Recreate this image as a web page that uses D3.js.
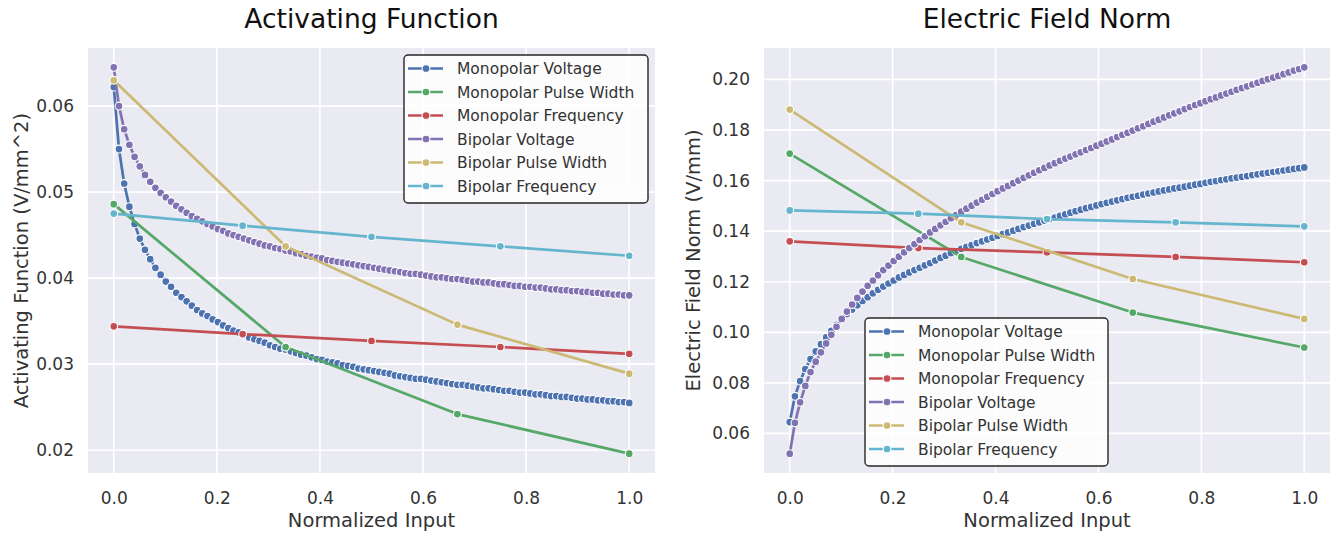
<!DOCTYPE html>
<html><head><meta charset="utf-8">
<script src="https://cdn.jsdelivr.net/npm/d3@7"></script>
<style>body{margin:0;background:#fff}svg{display:block;font-family:"DejaVu Sans",sans-serif}</style>
</head><body>
<script>
// ---------- data ----------
const seriesNames = ["Monopolar Voltage","Monopolar Pulse Width","Monopolar Frequency","Bipolar Voltage","Bipolar Pulse Width","Bipolar Frequency"];
const seriesColors = ["#4C72B0","#55A868","#C44E52","#8172B2","#CCB974","#64B5CD"];
const xTicks = [0, 0.2, 0.4, 0.6, 0.8, 1.0];
const afTicks = [0.02, 0.03, 0.04, 0.05, 0.06];
const efTicks = [0.06, 0.08, 0.10, 0.12, 0.14, 0.16, 0.18, 0.20];

// normalized input levels (100 evenly spaced voltage levels, 4 pulse widths, 5 frequencies)
const xVoltage = d3.range(100).map(i => i / 99);
const xPulse = [0, 1/3, 2/3, 1];
const xFreq = [0, 0.25, 0.5, 0.75, 1];

// Activating Function (V/mm^2)
const afMonoVoltage = [0.0622,0.0550,0.0510,0.0483,0.0463,0.0446,0.0433,0.0422,0.0412,0.0404,0.0396,0.0390,0.0383,0.0378,0.0373,0.0368,0.0363,0.0359,0.0356,0.0352,0.0349,0.0345,0.0342,0.0339,0.0337,
0.0334,0.0331,0.0329,0.0327,0.0325,0.0322,0.0320,0.0318,0.0317,0.0315,0.0313,0.0311,0.0310,0.0308,0.0306,0.0305,0.0303,0.0302,0.0301,0.0299,0.0298,0.0297,0.0295,0.0294,0.0293,
0.0292,0.0291,0.0290,0.0289,0.0287,0.0286,0.0285,0.0284,0.0283,0.0283,0.0282,0.0281,0.0280,0.0279,0.0278,0.0277,0.0276,0.0276,0.0275,0.0274,0.0273,0.0272,0.0272,0.0271,0.0270,
0.0269,0.0269,0.0268,0.0267,0.0267,0.0266,0.0265,0.0265,0.0264,0.0263,0.0263,0.0262,0.0262,0.0261,0.0260,0.0260,0.0259,0.0259,0.0258,0.0258,0.0257,0.0257,0.0256,0.0256,0.0255];
const afMonoPulse = [0.0486, 0.0320, 0.0242, 0.0196];
const afMonoFreq = [0.0344, 0.0335, 0.0327, 0.0320, 0.0312];
const afBiVoltage = [0.0645,0.0600,0.0573,0.0555,0.0541,0.0530,0.0520,0.0512,0.0505,0.0499,0.0494,0.0489,0.0484,0.0480,0.0476,0.0472,0.0469,0.0466,0.0463,0.0460,0.0457,0.0455,0.0452,0.0450,0.0448,
0.0446,0.0444,0.0442,0.0440,0.0438,0.0437,0.0435,0.0434,0.0432,0.0431,0.0429,0.0428,0.0426,0.0425,0.0424,0.0423,0.0421,0.0420,0.0419,0.0418,0.0417,0.0416,0.0415,0.0414,0.0413,
0.0412,0.0411,0.0410,0.0409,0.0408,0.0407,0.0406,0.0405,0.0405,0.0404,0.0403,0.0402,0.0401,0.0401,0.0400,0.0399,0.0399,0.0398,0.0397,0.0396,0.0396,0.0395,0.0395,0.0394,0.0393,
0.0393,0.0392,0.0391,0.0391,0.0390,0.0390,0.0389,0.0389,0.0388,0.0387,0.0387,0.0386,0.0386,0.0385,0.0385,0.0384,0.0384,0.0383,0.0383,0.0382,0.0382,0.0381,0.0381,0.0380,0.0380];
const afBiPulse = [0.0630, 0.0437, 0.0346, 0.0289];
const afBiFreq = [0.0475, 0.0461, 0.0448, 0.0437, 0.0426];

// Electric Field Norm (V/mm)
const efMonoVoltage = [0.0645,0.0747,0.0807,0.0855,0.0894,0.0925,0.0953,0.0980,0.1006,0.1030,0.1052,0.1072,0.1090,0.1107,0.1124,0.1139,0.1154,0.1168,0.1181,0.1193,0.1205,0.1217,0.1227,0.1237,0.1246,
0.1255,0.1265,0.1274,0.1284,0.1294,0.1303,0.1313,0.1321,0.1330,0.1338,0.1345,0.1353,0.1360,0.1367,0.1374,0.1381,0.1388,0.1395,0.1402,0.1409,0.1416,0.1422,0.1429,0.1435,0.1442,
0.1448,0.1454,0.1461,0.1467,0.1473,0.1479,0.1485,0.1491,0.1496,0.1502,0.1507,0.1512,0.1517,0.1522,0.1527,0.1532,0.1536,0.1540,0.1545,0.1549,0.1553,0.1557,0.1561,0.1565,0.1569,
0.1572,0.1576,0.1580,0.1584,0.1587,0.1591,0.1595,0.1598,0.1602,0.1605,0.1609,0.1612,0.1615,0.1618,0.1622,0.1625,0.1628,0.1631,0.1634,0.1637,0.1640,0.1643,0.1646,0.1649,0.1652];
const efMonoPulse = [0.1707, 0.1298, 0.1078, 0.0940];
const efMonoFreq = [0.1360, 0.1333, 0.1316, 0.1298, 0.1277];
const efBiVoltage = [0.0520,0.0642,0.0723,0.0788,0.0843,0.0884,0.0921,0.0956,0.0990,0.1022,0.1053,0.1082,0.1110,0.1136,0.1161,0.1184,0.1205,0.1226,0.1246,0.1264,0.1282,0.1299,0.1316,0.1333,0.1349,
0.1365,0.1380,0.1395,0.1409,0.1423,0.1437,0.1451,0.1464,0.1477,0.1489,0.1501,0.1513,0.1524,0.1536,0.1547,0.1558,0.1569,0.1579,0.1590,0.1600,0.1611,0.1621,0.1631,0.1641,0.1650,
0.1660,0.1669,0.1678,0.1687,0.1695,0.1704,0.1712,0.1721,0.1729,0.1738,0.1746,0.1755,0.1763,0.1772,0.1781,0.1789,0.1798,0.1807,0.1815,0.1824,0.1833,0.1841,0.1850,0.1858,0.1866,
0.1874,0.1883,0.1891,0.1899,0.1906,0.1914,0.1922,0.1929,0.1937,0.1944,0.1951,0.1959,0.1966,0.1973,0.1980,0.1987,0.1994,0.2001,0.2007,0.2014,0.2021,0.2028,0.2035,0.2041,0.2048];
const efBiPulse = [0.1881, 0.1435, 0.1211, 0.1053];
const efBiFreq = [0.1482, 0.1469, 0.1448, 0.1435, 0.1419];

// ---------- drawing ----------
const W = 1338, H = 535;
const svg = d3.select("body").append("svg").attr("width", W).attr("height", H);
const TXT = "#333333";
const MR = 3.9, MSW = 1.1;

function build(xs, ysList){ return ysList.map((ys, i) => ({name: seriesNames[i], color: seriesColors[i], pts: ys.map((v, j) => [xs[i][j], v])})); }

function drawPanel(cfg){
  const x = d3.scaleLinear().domain([-0.05, 1.05]).range([cfg.left, cfg.right]);
  const all = cfg.series.flatMap(s => s.pts.map(p => p[1]));
  const [lo, hi] = d3.extent(all), pad = (hi - lo) * 0.05;
  const y = d3.scaleLinear().domain([lo - pad, hi + pad]).range([cfg.bottom, cfg.top]);
  const g = svg.append("g");
  g.append("rect").attr("x", cfg.left).attr("y", cfg.top).attr("width", cfg.right - cfg.left).attr("height", cfg.bottom - cfg.top).attr("fill", "#EAEAF2");
  g.append("g").selectAll("line").data(xTicks).join("line")
    .attr("x1", d => x(d)).attr("x2", d => x(d)).attr("y1", cfg.top).attr("y2", cfg.bottom)
    .attr("stroke", "#fff").attr("stroke-width", 1.7);
  g.append("g").selectAll("line").data(cfg.yTicks).join("line")
    .attr("y1", d => y(d)).attr("y2", d => y(d)).attr("x1", cfg.left).attr("x2", cfg.right)
    .attr("stroke", "#fff").attr("stroke-width", 1.7);

  const ax = g.append("g").attr("transform", `translate(0,${cfg.bottom})`)
    .call(d3.axisBottom(x).tickValues(xTicks).tickFormat(d3.format(".1f")).tickSize(0).tickPadding(19));
  ax.select(".domain").remove();
  ax.selectAll("text").attr("font-size", 17).attr("fill", TXT).attr("font-family", "DejaVu Sans");
  const ay = g.append("g").attr("transform", `translate(${cfg.left},0)`)
    .call(d3.axisLeft(y).tickValues(cfg.yTicks).tickFormat(d3.format(".2f")).tickSize(0).tickPadding(14));
  ay.select(".domain").remove();
  ay.selectAll("text").attr("font-size", 17).attr("fill", TXT).attr("font-family", "DejaVu Sans");

  const cx = (cfg.left + cfg.right) / 2, cy = (cfg.top + cfg.bottom) / 2;
  g.append("text").attr("x", cx).attr("y", 28).attr("text-anchor", "middle").attr("font-size", 26.5).attr("fill", "#111").text(cfg.title);
  g.append("text").attr("x", cx).attr("y", 527).attr("text-anchor", "middle").attr("font-size", 19.5).attr("fill", TXT).text("Normalized Input");
  g.append("text").attr("transform", `translate(${cfg.ylabelX},${cy}) rotate(-90)`).attr("text-anchor", "middle").attr("font-size", 19.5).attr("fill", TXT).text(cfg.ylabel);

  const line = d3.line().x(d => x(d[0])).y(d => y(d[1]));
  cfg.series.forEach(s => {
    const sg = g.append("g");
    sg.append("path").attr("d", line(s.pts)).attr("fill", "none").attr("stroke", s.color).attr("stroke-width", 2.7).attr("stroke-linejoin", "round");
    sg.selectAll("circle").data(s.pts).join("circle").attr("cx", d => x(d[0])).attr("cy", d => y(d[1]))
      .attr("r", MR).attr("fill", s.color).attr("stroke", "#fff").attr("stroke-width", MSW);
  });

  const L = cfg.legend;
  const lg = g.append("g");
  lg.append("rect").attr("x", L.x).attr("y", L.y).attr("width", L.w).attr("height", L.h).attr("rx", 4)
    .attr("fill", "#fff").attr("fill-opacity", 0.85).attr("stroke", "#262626").attr("stroke-width", 1.4);
  cfg.series.forEach((s, i) => {
    const ry = L.y + 13.5 + i * 23.5;
    lg.append("line").attr("x1", L.x + 4).attr("x2", L.x + 39).attr("y1", ry).attr("y2", ry).attr("stroke", s.color).attr("stroke-width", 2.7);
    lg.append("circle").attr("cx", L.x + 22).attr("cy", ry).attr("r", MR).attr("fill", s.color).attr("stroke", "#fff").attr("stroke-width", MSW);
    lg.append("text").attr("x", L.x + 53).attr("y", ry + 5.5).attr("font-size", 15.5).attr("fill", TXT).text(s.name);
  });
}

const xsAll = [xVoltage, xPulse, xFreq, xVoltage, xPulse, xFreq];
drawPanel({
  left: 88, right: 655, top: 48, bottom: 473, ylabelX: 28,
  title: "Activating Function", ylabel: "Activating Function (V/mm^2)", yTicks: afTicks,
  series: build(xsAll, [afMonoVoltage, afMonoPulse, afMonoFreq, afBiVoltage, afBiPulse, afBiFreq]),
  legend: {x: 404, y: 55, w: 244, h: 148}
});
drawPanel({
  left: 764, right: 1330, top: 48, bottom: 473, ylabelX: 700,
  title: "Electric Field Norm", ylabel: "Electric Field Norm (V/mm)", yTicks: efTicks,
  series: build(xsAll, [efMonoVoltage, efMonoPulse, efMonoFreq, efBiVoltage, efBiPulse, efBiFreq]),
  legend: {x: 865, y: 318, w: 243, h: 148}
});
</script>
</body></html>
